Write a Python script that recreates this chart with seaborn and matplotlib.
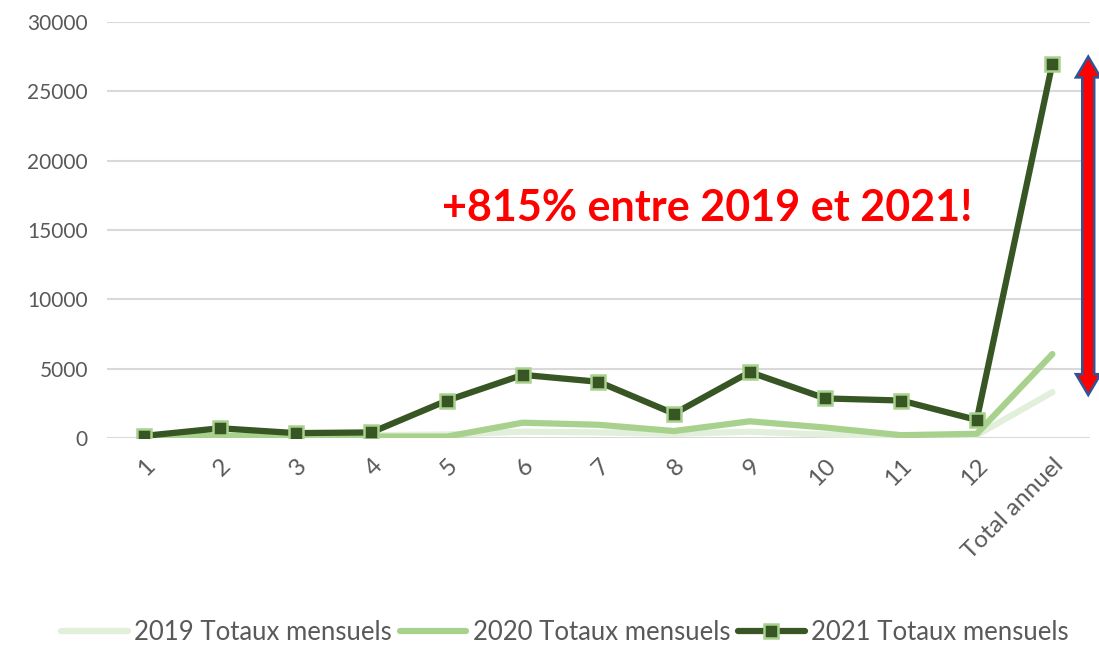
import matplotlib
matplotlib.use("Agg")
import matplotlib.pyplot as plt
import seaborn as sns
import pandas as pd
from matplotlib.patches import Polygon
from matplotlib.transforms import blended_transform_factory

categories = ["1", "2", "3", "4", "5", "6", "7", "8", "9", "10", "11", "12", "Total annuel"]
v2019 = [100, 300, 250, 200, 250, 450, 400, 300, 450, 250, 150, 200, 3300]
v2020 = [100, 150, 150, 100, 100, 1100, 950, 500, 1200, 750, 200, 300, 6050]
v2021 = [150, 700, 350, 400, 2700, 4550, 4050, 1750, 4750, 2850, 2700, 1300, 27000]
series_labels = ["2019 Totaux mensuels", "2020 Totaux mensuels", "2021 Totaux mensuels"]
annotation = "+815% entre 2019 et 2021!"
yticks = [0, 5000, 10000, 15000, 20000, 25000, 30000]

sns.set_theme(style="white")
plt.rcParams["font.family"] = ["Lato", "DejaVu Sans"]

fig = plt.figure(figsize=(10.99, 6.45), dpi=100)
ax = fig.add_axes([0.097, 0.321, 0.895, 0.645])

df = pd.DataFrame({"cat": categories, "v2019": v2019, "v2020": v2020, "v2021": v2021})

sns.lineplot(data=df, x="cat", y="v2019", ax=ax, sort=False, color="#e2efda",
             linewidth=4.5, label=series_labels[0], solid_capstyle="round")
sns.lineplot(data=df, x="cat", y="v2020", ax=ax, sort=False, color="#a9d18e",
             linewidth=4.5, label=series_labels[1], solid_capstyle="round")
sns.lineplot(data=df, x="cat", y="v2021", ax=ax, sort=False, color="#375623",
             linewidth=4.5, label=series_labels[2], marker="s", markersize=10,
             markerfacecolor="#375623", markeredgecolor="#a9d18e", markeredgewidth=1.8)

ax.set_xlim(-0.5, len(categories) - 0.5)
ax.set_ylim(0, 30000)
ax.set_yticks(yticks)
ax.set_yticklabels([str(t) for t in yticks])
ax.set_xlabel("")
ax.set_ylabel("")
ax.grid(axis="y", color="#d9d9d9", linewidth=1.5)
ax.set_axisbelow(True)
for s in ax.spines.values():
    s.set_visible(False)
ax.tick_params(axis="y", colors="#595959", labelsize=15, length=0, pad=13.5)
ax.tick_params(axis="x", colors="#595959", labelsize=17.5, length=0, pad=12)
plt.setp(ax.get_xticklabels(), rotation=45, ha="right", rotation_mode="anchor")

ax.text(0.611, 0.553, annotation, transform=ax.transAxes, ha="center", va="center",
        color="#ff0000", fontsize=31, fontweight="bold")

# double-headed block arrow
tr = blended_transform_factory(ax.transAxes, ax.transData)
xc = 0.998
sw = 0.0061
hw = 0.0125
ytop, ybot = 27500, 3100
hl = 1500
verts = [(xc, ytop), (xc + hw, ytop - hl), (xc + sw, ytop - hl), (xc + sw, ybot + hl),
         (xc + hw, ybot + hl), (xc, ybot), (xc - hw, ybot + hl), (xc - sw, ybot + hl),
         (xc - sw, ytop - hl), (xc - hw, ytop - hl)]
ax.add_patch(Polygon(verts, closed=True, transform=tr, facecolor="#ff0000",
                     edgecolor="#2f5597", linewidth=1.8, clip_on=False, zorder=5))

handles, labels = ax.get_legend_handles_labels()
ax.get_legend().remove()
leg = fig.legend(handles, labels, loc="center", bbox_to_anchor=(0.514, 0.02), ncol=3,
                 frameon=False, fontsize=18.5, handlelength=2.6, columnspacing=0.3,
                 handletextpad=0.25, borderpad=0)
for t in leg.get_texts():
    t.set_color("#595959")

fig.savefig("out.png", dpi=100)
